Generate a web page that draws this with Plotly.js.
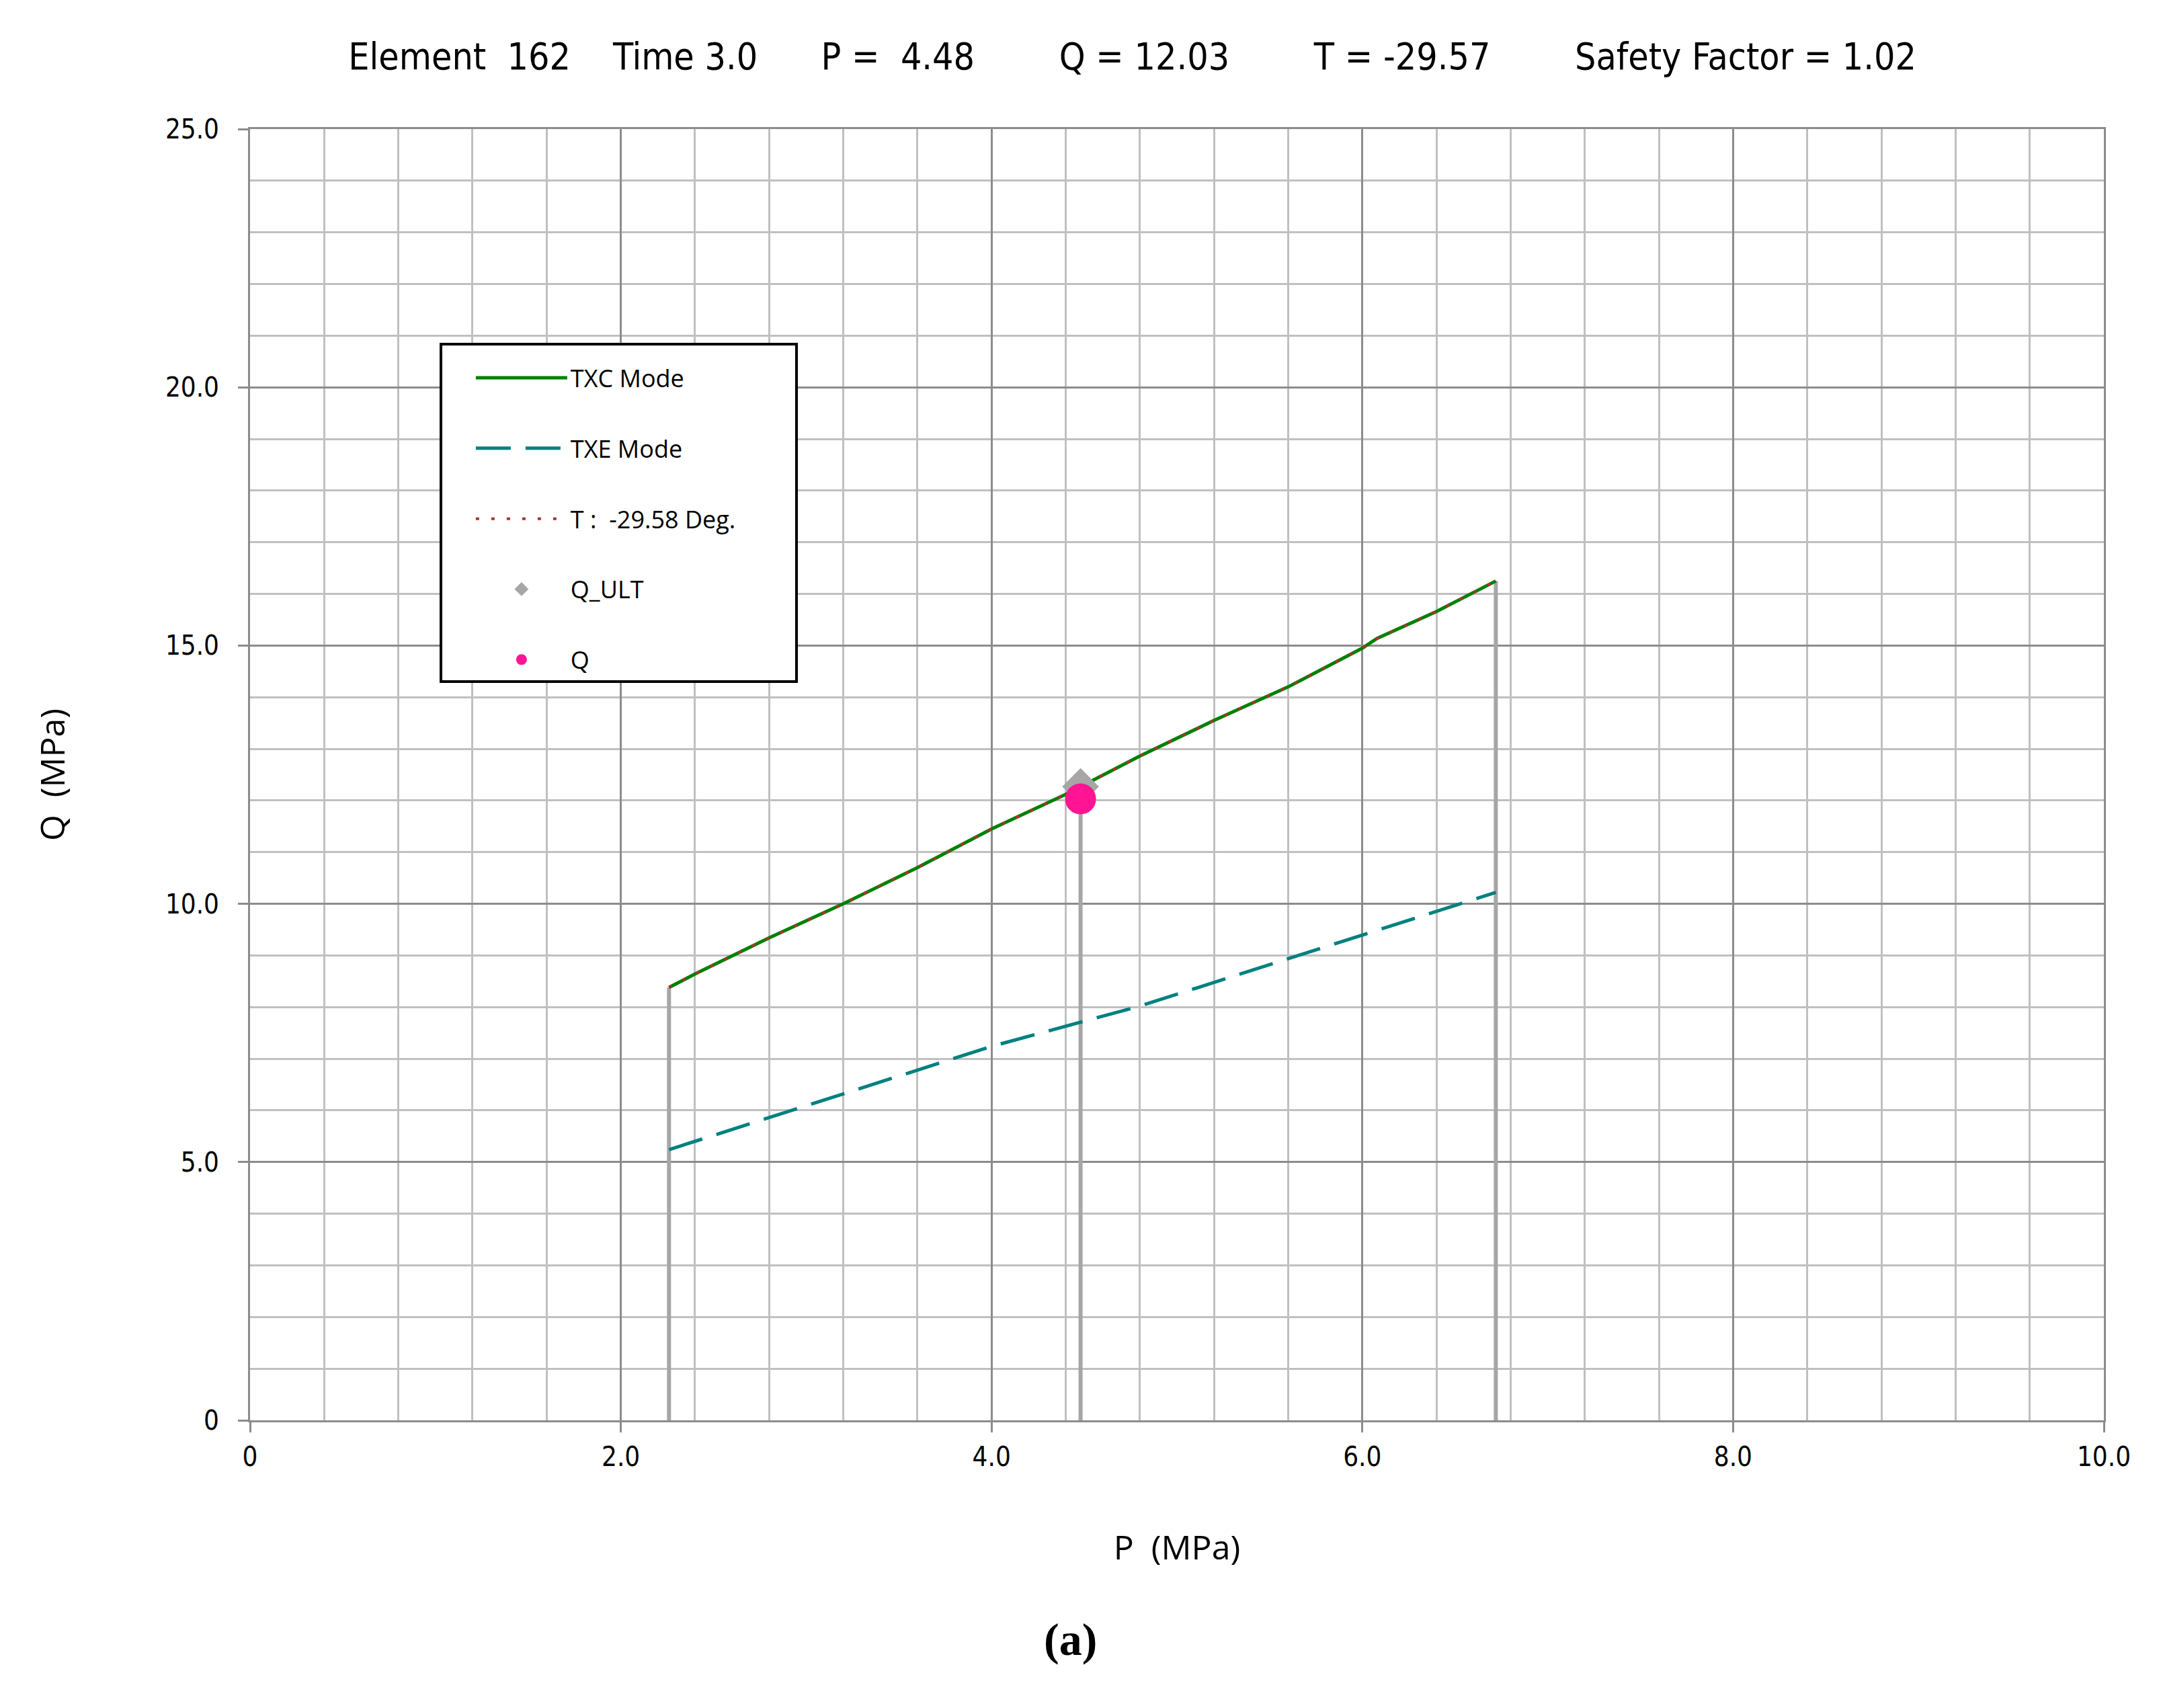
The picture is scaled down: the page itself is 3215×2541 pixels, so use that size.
<!DOCTYPE html>
<html>
<head>
<meta charset="utf-8">
<script src="https://cdn.plot.ly/plotly-3.0.1.min.js"></script>
<style>
  html, body { margin: 0; padding: 0; background: #fff; }
  #chart { width: 3215px; height: 2541px; }
</style>
</head>
<body>
<div id="chart"></div>
<script>
// TXC mode envelope (P, Q in MPa)
var txcP = [2.26, 2.4, 2.8, 3.2, 3.6, 4.0, 4.4, 4.8, 5.2, 5.6, 6.0, 6.08, 6.4, 6.72];
var txcQ = [8.38, 8.64, 9.34, 10.0, 10.7, 11.45, 12.12, 12.86, 13.55, 14.2, 14.95, 15.14, 15.66, 16.25];

// TXE mode envelope
var txeP = [2.26, 4.0, 4.8, 5.9, 6.72];
var txeQ = [5.24, 7.24, 8.02, 9.28, 10.22];

// envelope at T = -29.58 deg (sits on the TXC curve)
var tempP = [2.26, 2.4, 2.8, 3.2, 3.6, 4.0, 4.4, 4.8, 5.2, 5.6, 6.0, 6.08, 6.4, 6.72];
var tempQ = [8.38, 8.64, 9.34, 10.0, 10.7, 11.45, 12.12, 12.86, 13.55, 14.2, 14.95, 15.14, 15.66, 16.25];

// stress state
var stateP = [4.48];
var stateQ = [12.03];
var qUlt = [12.27];

// vertical drop lines
var dropP = [2.26, 4.48, 6.72];
var dropQ = [8.38, 12.27, 16.25];

var xTickVals = [0, 2, 4, 6, 8, 10];
var xTickText = ['0', '2.0', '4.0', '6.0', '8.0', '10.0'];
var yTickVals = [0, 5, 10, 15, 20, 25];
var yTickText = ['0', '5.0', '10.0', '15.0', '20.0', '25.0'];

var titleText = 'Element\u00a0\u00a0162\u00a0\u00a0\u00a0\u00a0Time\u00a03.0\u00a0\u00a0\u00a0\u00a0\u00a0\u00a0P\u00a0=\u00a0\u00a04.48' +
  '\u00a0\u00a0\u00a0\u00a0\u00a0\u00a0\u00a0\u00a0Q\u00a0=\u00a012.03\u00a0\u00a0\u00a0\u00a0\u00a0\u00a0\u00a0\u00a0T\u00a0=\u00a0-29.57' +
  '\u00a0\u00a0\u00a0\u00a0\u00a0\u00a0\u00a0\u00a0Safety\u00a0Factor\u00a0=\u00a01.02';

var narrow = '"DejaVu Sans Condensed", "Liberation Sans Narrow", "DejaVu Sans", sans-serif';
var sans = '"Open Sans", "Noto Sans", sans-serif';

// blank legend title: only used to pad the legend box (top and width)
var legendPad = new Array(144).join('\u00a0');

var dx = [], dy = [];
for (var i = 0; i < dropP.length; i++) {
  dx.push(dropP[i], dropP[i], null);
  dy.push(0, dropQ[i], null);
}

var drops = {
  type: 'scatter', mode: 'lines', x: dx, y: dy,
  line: {color: '#a6a6a6', width: 6},
  showlegend: false, hoverinfo: 'skip'
};

var txe = {
  type: 'scatter', mode: 'lines', name: 'TXE Mode', legendgroup: 'b',
  x: txeP, y: txeQ,
  line: {color: '#008080', width: 5, dash: '52px,22px'}
};

var txc = {
  type: 'scatter', mode: 'lines', name: 'TXC Mode', legendgroup: 'a',
  x: txcP, y: txcQ,
  line: {color: '#008000', width: 5}
};

var temp = {
  type: 'scatter', mode: 'lines', name: 'T :  -29.58 Deg.', legendgroup: 'c',
  x: tempP, y: tempQ,
  line: {color: '#b03030', width: 4, dash: '5px,18px'}
};

var ult = {
  type: 'scatter', mode: 'markers', name: 'Q_ULT', legendgroup: 'd',
  x: stateP, y: qUlt,
  marker: {symbol: 'diamond', size: 42, color: '#a6a6a6'}
};

var q = {
  type: 'scatter', mode: 'markers', name: 'Q', legendgroup: 'e',
  x: stateP, y: stateQ,
  marker: {symbol: 'circle', size: 46, color: '#ff1493'}
};

var data = [drops, txc, txe, temp, ult, q];

var layout = {
  width: 3215,
  height: 2541,
  paper_bgcolor: '#fff',
  plot_bgcolor: '#fff',
  margin: {l: 372, r: 85, t: 192, b: 428, pad: 0},
  font: {family: narrow, size: 40, color: '#000'},
  title: {
    text: titleText,
    font: {family: narrow, size: 55, color: '#000'},
    xref: 'container', x: 0.524, xanchor: 'center',
    yref: 'container', y: 0.967, yanchor: 'middle'
  },
  xaxis: {
    range: [0, 10],
    tickmode: 'array', tickvals: xTickVals, ticktext: xTickText,
    tickfont: {family: narrow, size: 40, color: '#000'},
    ticks: 'outside', ticklen: 15, tickwidth: 3, tickcolor: '#8c8c8c',
    ticklabelstandoff: 2,
    showline: true, linecolor: '#8c8c8c', linewidth: 3, mirror: true,
    showgrid: true, gridcolor: '#8c8c8c', gridwidth: 3,
    zeroline: false,
    minor: {tick0: 0, dtick: 0.4, showgrid: true, gridcolor: '#c0c0c0', gridwidth: 3, ticks: ''},
    title: {text: 'P\u00a0\u00a0(MPa)', font: {family: sans, size: 50, color: '#000'}, standoff: 96}
  },
  yaxis: {
    range: [0, 25],
    tickmode: 'array', tickvals: yTickVals, ticktext: yTickText,
    tickfont: {family: narrow, size: 40, color: '#000'},
    ticks: 'outside', ticklen: 15, tickwidth: 3, tickcolor: '#8c8c8c',
    ticklabelstandoff: 20,
    showline: true, linecolor: '#8c8c8c', linewidth: 3, mirror: true,
    showgrid: true, gridcolor: '#8c8c8c', gridwidth: 3,
    zeroline: false,
    minor: {tick0: 0, dtick: 1, showgrid: true, gridcolor: '#c0c0c0', gridwidth: 3, ticks: ''},
    title: {text: 'Q\u00a0\u00a0(MPa)', font: {family: sans, size: 50, color: '#000'}, standoff: 134}
  },
  showlegend: true,
  legend: {
    x: 0.1022, y: 0.8345, xanchor: 'left', yanchor: 'top',
    bgcolor: '#fff', bordercolor: '#000', borderwidth: 4,
    font: {family: sans, size: 36, color: '#000'},
    title: {text: legendPad, font: {family: sans, size: 14}},
    traceorder: 'grouped', tracegroupgap: 55,
    itemwidth: 136, indentation: 45
  },
  annotations: [{
    text: '<b>(a)</b>',
    xref: 'paper', yref: 'paper', x: 0.4427, y: -0.1698,
    xanchor: 'center', yanchor: 'middle', showarrow: false,
    font: {family: '"Liberation Serif", "DejaVu Serif", serif', size: 68, color: '#000'}
  }]
};

Plotly.newPlot('chart', data, layout, {displayModeBar: false, staticPlot: true});
</script>
</body>
</html>
